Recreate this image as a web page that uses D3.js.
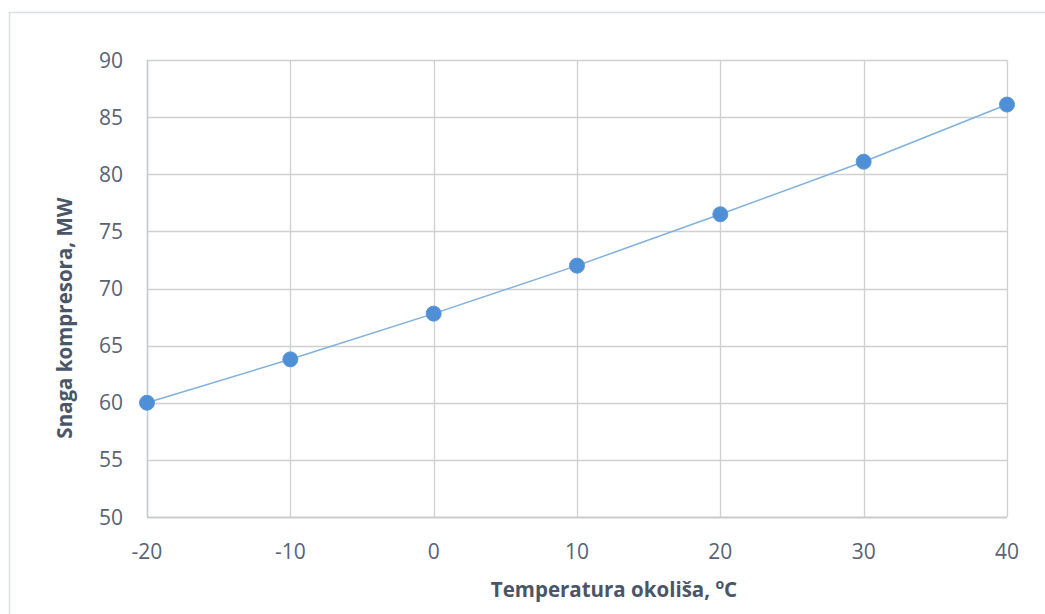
<!DOCTYPE html>
<html><head><meta charset="utf-8">
<script src="https://cdn.jsdelivr.net/npm/d3@7"></script>
<style>body{margin:0;background:#fff}</style>
</head><body>
<script>
const temps = [-20, -10, 0, 10, 20, 30, 40];
const power = [60, 63.8, 67.8, 72.0, 76.5, 81.1, 86.1];
const xTicks = [-20, -10, 0, 10, 20, 30, 40];
const yTicks = [50, 55, 60, 65, 70, 75, 80, 85, 90];

const W = 1045, H = 614;
const svg = d3.select("body").append("svg").attr("width", W).attr("height", H);
svg.append("rect").attr("x", 9.5).attr("y", 12.5).attr("width", W).attr("height", H)
  .attr("fill", "#fff").attr("stroke", "#d9dee6").attr("stroke-width", 1.5);

const x = d3.scaleLinear().domain([-20, 40]).range([147, 1007]);
const y = d3.scaleLinear().domain([50, 90]).range([517, 60]);
const font = "'Open Sans', 'Segoe UI', sans-serif";
const tc = "#596275";

const g = svg.append("g");
g.selectAll(".hg").data(yTicks).join("line")
  .attr("x1", x(-20)).attr("x2", x(40)).attr("y1", d => Math.round(y(d)) + 0.5).attr("y2", d => Math.round(y(d)) + 0.5)
  .attr("stroke", "#d0d0d0").attr("stroke-width", 1.3);
g.selectAll(".vg").data(xTicks).join("line")
  .attr("y1", y(50)).attr("y2", y(90)).attr("x1", d => Math.round(x(d)) + 0.5).attr("x2", d => Math.round(x(d)) + 0.5)
  .attr("stroke", "#d0d0d0").attr("stroke-width", 1.3);
g.append("line").attr("x1", x(-20)+0.5).attr("x2", x(-20)+0.5).attr("y1", y(50)).attr("y2", y(90))
  .attr("stroke", "#bfcbdb").attr("stroke-width", 1.5);
g.append("line").attr("x1", x(-20)).attr("x2", x(40)).attr("y1", y(50)+0.5).attr("y2", y(50)+0.5)
  .attr("stroke", "#c8c8c8").attr("stroke-width", 1.5);

g.selectAll(".yl").data(yTicks).join("text")
  .attr("x", 123).attr("y", d => y(d)).attr("dy", "0.36em").attr("text-anchor", "end")
  .attr("font-family", font).attr("font-size", 21).attr("fill", tc).text(d => d);
g.selectAll(".xl").data(xTicks).join("text")
  .attr("x", d => x(d)).attr("y", 551).attr("dy", "0.36em").attr("text-anchor", "middle")
  .attr("font-family", font).attr("font-size", 21).attr("fill", tc).text(d => d);

const xt = svg.append("text").attr("x", 614).attr("y", 597).attr("text-anchor", "middle")
  .attr("font-family", font).attr("font-size", 20.5).attr("font-weight", "bold").attr("fill", "#4a5568");
xt.append("tspan").text("Temperatura okoliša, ");
xt.append("tspan").attr("font-size", 14).attr("dy", -8).text("o");
xt.append("tspan").attr("dy", 8).text("C");
svg.append("text").attr("transform", "translate(72,318) rotate(-90)").attr("text-anchor", "middle")
  .attr("font-family", font).attr("font-size", 20.5).attr("font-weight", "bold").attr("fill", "#4a5568")
  .text("Snaga kompresora, MW");

const pts = temps.map((t, i) => [t, power[i]]);
g.append("path").datum(pts)
  .attr("d", d3.line().x(d => x(d[0])).y(d => y(d[1])))
  .attr("fill", "none").attr("stroke", "#7eb0e0").attr("stroke-width", 1.5);
g.selectAll(".pt").data(pts).join("circle")
  .attr("cx", d => x(d[0])).attr("cy", d => y(d[1])).attr("r", 7.5)
  .attr("fill", "#4f8fd6").attr("stroke", "#5a97d9").attr("stroke-width", 1);
</script>
</body></html>
